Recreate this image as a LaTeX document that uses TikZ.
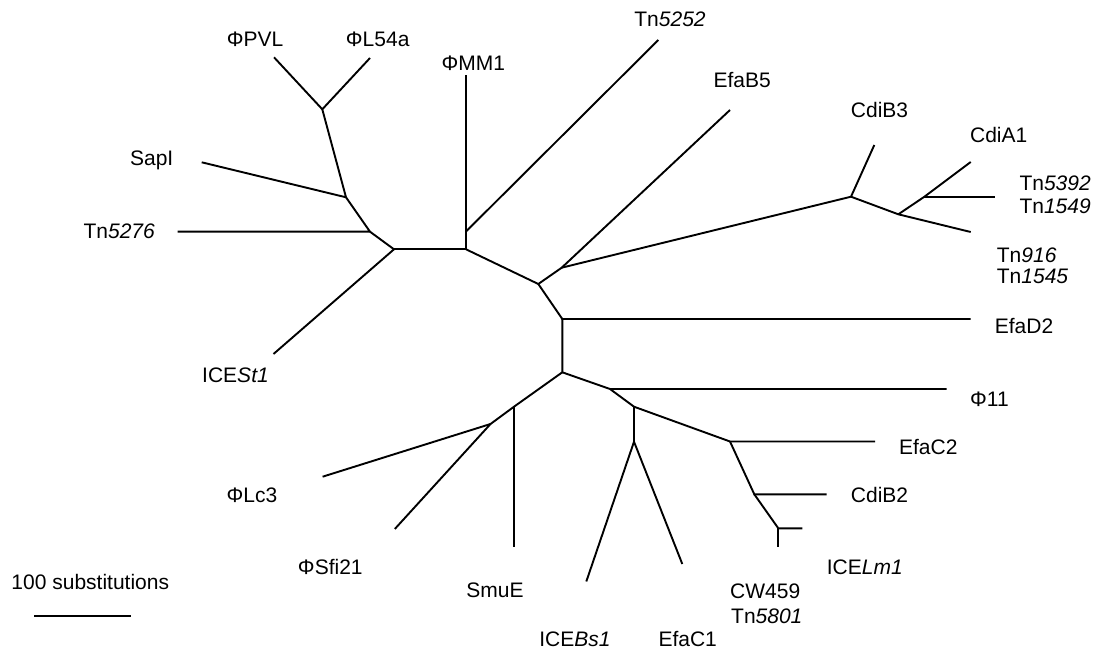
\documentclass[tikz,border=0pt]{standalone}
\usepackage{fontspec}
\setmainfont{Liberation Sans}
\begin{document}
\begin{tikzpicture}[x=1pt,y=-1pt,
  br/.style={line width=1.9pt},
  lbl/.style={inner sep=0pt, font=\fontsize{21}{24}\selectfont}]
\useasboundingbox (0,0) rectangle (1095,652);
% internal nodes
\coordinate (A) at (322.3,109.3);
\coordinate (B) at (346,197.3);
\coordinate (C) at (370,231.7);
\coordinate (D) at (394,249.3);
\coordinate (E) at (466,249.3);
\coordinate (E2) at (466,231.5);
\coordinate (F) at (538.3,284);
\coordinate (G) at (561.7,267.7);
\coordinate (R) at (851,196.7);
\coordinate (S) at (898.3,214.3);
\coordinate (T) at (924,197);
\coordinate (H) at (562.3,319);
\coordinate (I) at (562.3,372.3);
\coordinate (J) at (514,406.7);
\coordinate (K) at (490.5,424);
\coordinate (L) at (610,389);
\coordinate (M) at (634,406.7);
\coordinate (N) at (634,441.7);
\coordinate (O) at (730,441.5);
\coordinate (P) at (754.3,494.3);
\coordinate (Q) at (778.3,528.3);
% leaves
\coordinate (lPVL) at (274,57.3);
\coordinate (lL54a) at (370,58);
\coordinate (lSapI) at (201.7,162.3);
\coordinate (lTn5276) at (177.5,231.7);
\coordinate (lICESt1) at (273.5,354);
\coordinate (lMM1) at (466,75);
\coordinate (lTn5252) at (658.3,40);
\coordinate (lEfaB5) at (730,110);
\coordinate (lCdiB3) at (874.3,145);
\coordinate (lCdiA1) at (970.7,162);
\coordinate (lTn5392) at (995,197);
\coordinate (lTn916) at (970.7,232);
\coordinate (lEfaD2) at (970.7,319);
\coordinate (l11) at (946.7,389);
\coordinate (lEfaC2) at (875,441.5);
\coordinate (lCdiB2) at (826.7,494.3);
\coordinate (lLm1) at (802.3,528.3);
\coordinate (lCW459) at (778.3,546.7);
\coordinate (lEfaC1) at (682.3,564);
\coordinate (lBs1) at (586.3,581.5);
\coordinate (lSmuE) at (514,546.7);
\coordinate (lSfi21) at (394.8,529);
\coordinate (lLc3) at (322.6,476.7);
\coordinate (sb1) at (34,616);
\coordinate (sb2) at (131,616);
% branches
\draw[br] (lPVL) -- (A) -- (lL54a);
\draw[br] (A) -- (B) -- (lSapI);
\draw[br] (B) -- (C) -- (lTn5276);
\draw[br] (C) -- (D) -- (lICESt1);
\draw[br] (D) -- (E) -- (E2) -- (lMM1);
\draw[br] (E2) -- (lTn5252);
\draw[br] (E) -- (F) -- (G) -- (lEfaB5);
\draw[br] (G) -- (R) -- (lCdiB3);
\draw[br] (R) -- (S) -- (lTn916);
\draw[br] (S) -- (T) -- (lCdiA1);
\draw[br] (T) -- (lTn5392);
\draw[br] (F) -- (H) -- (lEfaD2);
\draw[br] (H) -- (I) -- (J) -- (K) -- (lLc3);
\draw[br] (K) -- (lSfi21);
\draw[br] (J) -- (lSmuE);
\draw[br] (I) -- (L) -- (l11);
\draw[br] (L) -- (M) -- (N) -- (lBs1);
\draw[br] (N) -- (lEfaC1);
\draw[br] (M) -- (O) -- (lEfaC2);
\draw[br] (O) -- (P) -- (lCdiB2);
\draw[br] (P) -- (Q) -- (lLm1);
\draw[br] (Q) -- (lCW459);
\draw[br] (sb1) -- (sb2);
% labels
\node[lbl, anchor=base] (tPVL) at (255,46.6) {ΦPVL};
\node[lbl, anchor=base] (tL54a) at (377.7,46.6) {ΦL54a};
\node[lbl, anchor=base] (tMM1) at (473.3,70.6) {ΦMM1};
\node[lbl, anchor=base] (tTn5252) at (670,26.3) {Tn\textit{5252}};
\node[lbl, anchor=base west] (tEfaB5) at (713.3,87.3) {EfaB5};
\node[lbl, anchor=base] (tCdiB3) at (879.5,118) {CdiB3};
\node[lbl, anchor=base] (tCdiA1) at (998.7,142.3) {CdiA1};
\node[lbl, anchor=base west] (tTn5392) at (1019.3,190.6) {Tn\textit{5392}};
\node[lbl, anchor=base west] (tTn1549) at (1019.3,214) {Tn\textit{1549}};
\node[lbl, anchor=base west] (tTn916) at (996.7,262.3) {Tn\textit{916}};
\node[lbl, anchor=base west] (tTn1545) at (996.7,284) {Tn\textit{1545}};
\node[lbl, anchor=base] (tEfaD2) at (1024,334) {EfaD2};
\node[lbl, anchor=base] (t11) at (989.5,406.3) {Φ11};
\node[lbl, anchor=base] (tEfaC2) at (928.3,454) {EfaC2};
\node[lbl, anchor=base] (tCdiB2) at (879.5,502.3) {CdiB2};
\node[lbl, anchor=base west] (tLm1) at (826.7,574) {ICE\textit{Lm1}};
\node[lbl, anchor=base west] (tCW459) at (730,598) {CW459};
\node[lbl, anchor=base west] (tTn5801) at (731,623.3) {Tn\textit{5801}};
\node[lbl, anchor=base] (tEfaC1) at (687.7,646.6) {EfaC1};
\node[lbl, anchor=base] (tBs1) at (575,646.6) {ICE\textit{Bs1}};
\node[lbl, anchor=base] (tSmuE) at (495,597) {SmuE};
\node[lbl, anchor=base] (tSfi21) at (330.3,574) {ΦSfi21};
\node[lbl, anchor=base] (tLc3) at (252,502.3) {ΦLc3};
\node[lbl, anchor=base] (tscale) at (90.3,589) {100 substitutions};
\node[lbl, anchor=base] (tSt1) at (235.5,382.3) {ICE\textit{St1}};
\node[lbl, anchor=base east] (tTn5276) at (155,238.3) {Tn\textit{5276}};
\node[lbl, anchor=base] (tSapI) at (151.7,165.5) {SapI};
\end{tikzpicture}
\end{document}
